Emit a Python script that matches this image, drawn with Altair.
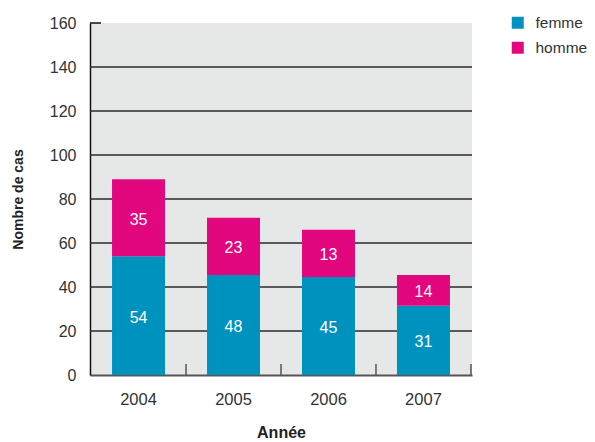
import altair as alt
import pandas as pd

years = ["2004", "2005", "2006", "2007"]
femme = [54, 45.5, 44.5, 31.5]
homme = [35, 26, 21.5, 14]
femme_labels = ["54", "48", "45", "31"]
homme_labels = ["35", "23", "13", "14"]
y_ticks = [0, 20, 40, 60, 80, 100, 120, 140, 160]
grid_values = [20, 40, 60, 80, 100, 120, 140]
top_tick = [160]

FONT = "Liberation Sans"
BLUE = "#0092bf"
PINK = "#e2067f"

rows = []
for i, yr in enumerate(years):
    rows.append(dict(year=yr, sexe="femme", lo=0, hi=femme[i], label=femme_labels[i]))
    rows.append(dict(year=yr, sexe="homme", lo=femme[i], hi=femme[i] + homme[i], label=homme_labels[i]))
df = pd.DataFrame(rows)
df["mid"] = (df["lo"] + df["hi"]) / 2

xscale = alt.Scale(paddingInner=0.442, paddingOuter=0.232)
yscale = alt.Scale(domain=[0, 160], nice=False)

yaxis = alt.Axis(values=y_ticks, grid=False, ticks=False,
                 domainColor="#111", domainWidth=1.5,
                 labelFontSize=16, labelPadding=14, labelColor="#333",
                 labelFont=FONT,
                 title="Nombre de cas", titleFont=FONT, titleFontSize=14,
                 titleFontWeight="bold", titleColor="#222",
                 titleAngle=270, titleBaseline="middle", titleAlign="center",
                 titleX=-72, titleY=176)
xaxis = alt.Axis(ticks=False, domainColor="#555", domainWidth=2,
                 labelFontSize=16.5, labelPadding=16, labelAngle=0,
                 labelColor="#333", labelFont=FONT,
                 title="Année", titleFont=FONT, titleFontSize=16,
                 titleFontWeight="bold", titleColor="#222",
                 titleY=57, titleBaseline="middle")

grid = alt.Chart(pd.DataFrame({"v": grid_values})).mark_rule(
    color="#2a2a2a", strokeWidth=1.6
).encode(
    y=alt.Y("v:Q", scale=yscale, axis=yaxis),
    x=alt.value(0), x2=alt.value(382),
)

toptick = alt.Chart(pd.DataFrame({"v": top_tick})).mark_rule(
    color="#111", strokeWidth=1.5
).encode(
    y=alt.Y("v:Q", scale=yscale, axis=yaxis),
    x=alt.value(0), x2=alt.value(11),
)

bars = alt.Chart(df).mark_bar().encode(
    x=alt.X("year:N", scale=xscale, sort=years, axis=xaxis),
    y=alt.Y("lo:Q", scale=yscale, axis=yaxis),
    y2="hi:Q",
    color=alt.Color("sexe:N",
                    scale=alt.Scale(domain=["femme", "homme"], range=[BLUE, PINK]),
                    legend=alt.Legend(title=None, orient="none", legendX=420, legendY=-8,
                                      symbolType="square", symbolSize=144,
                                      symbolStrokeWidth=0, symbolOpacity=1,
                                      labelFontSize=15.5, labelFont=FONT,
                                      labelColor="#333", labelOffset=10,
                                      rowPadding=8, padding=0)),
)

labels = alt.Chart(df).mark_text(
    color="white", fontSize=16, font=FONT, baseline="middle", align="center", dy=2
).encode(
    x=alt.X("year:N", scale=xscale, sort=years, axis=xaxis),
    y=alt.Y("mid:Q", scale=yscale, axis=yaxis),
    text="label:N",
)

xticks = alt.Chart(pd.DataFrame({"year": years})).mark_rule(
    color="#555", strokeWidth=1.5, xOffset=21
).encode(
    x=alt.X("year:N", scale=xscale, sort=years, bandPosition=1, axis=xaxis),
    y=alt.value(341), y2=alt.value(352),
)

chart = alt.layer(grid, bars, labels, toptick, xticks).properties(
    width=382, height=352,
    autosize=alt.AutoSizeParams(type="none"),
    padding={"left": 82, "top": 15, "right": 115, "bottom": 68},
).configure_view(
    fill="#e6e7e7", strokeWidth=0
)

chart.save("out.html", embed_options={"renderer": "svg", "actions": False})
